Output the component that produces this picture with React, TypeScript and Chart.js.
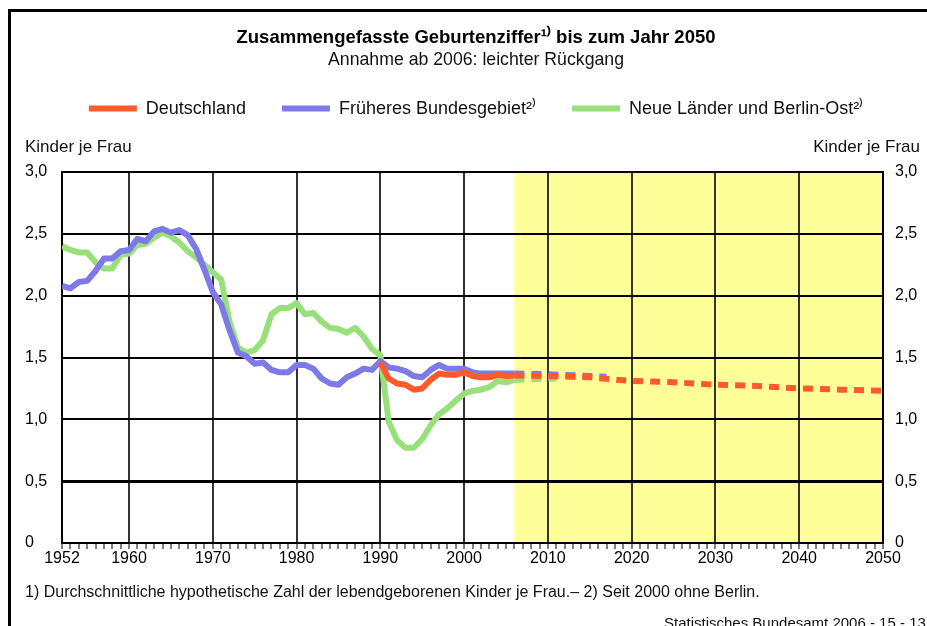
import React, { useEffect, useRef } from 'react';
import { Chart, registerables, layouts } from 'chart.js';

Chart.register(...registerables);

const FONT = "'Liberation Sans', Arial, sans-serif";

// ---------- data ----------
const historyYears = [
  1952, 1953, 1954, 1955, 1956, 1957, 1958, 1959, 1960, 1961,
  1962, 1963, 1964, 1965, 1966, 1967, 1968, 1969, 1970, 1971,
  1972, 1973, 1974, 1975, 1976, 1977, 1978, 1979, 1980, 1981,
  1982, 1983, 1984, 1985, 1986, 1987, 1988, 1989, 1990, 1991,
  1992, 1993, 1994, 1995, 1996, 1997, 1998, 1999, 2000, 2001,
  2002, 2003, 2004, 2005,
];

const bundesgebietValues = [
  2.08, 2.06, 2.11, 2.12, 2.2, 2.3, 2.3, 2.36, 2.37, 2.46,
  2.44, 2.52, 2.54, 2.51, 2.53, 2.49, 2.38, 2.21, 2.03, 1.93,
  1.72, 1.54, 1.51, 1.45, 1.46, 1.4, 1.38, 1.38, 1.44, 1.44,
  1.41, 1.33, 1.29, 1.28, 1.34, 1.37, 1.41, 1.4, 1.47, 1.42,
  1.41, 1.39, 1.35, 1.34, 1.4, 1.44, 1.41, 1.41, 1.41, 1.38,
  1.37, 1.37, 1.37, 1.37,
];

const neueLaenderValues = [
  2.4, 2.37, 2.35, 2.35, 2.27, 2.22, 2.22, 2.33, 2.34, 2.41,
  2.42, 2.47, 2.51, 2.48, 2.43, 2.36, 2.31, 2.25, 2.19, 2.13,
  1.79, 1.58, 1.54, 1.56, 1.64, 1.85, 1.9, 1.9, 1.94, 1.85,
  1.86, 1.79, 1.74, 1.73, 1.7, 1.74, 1.67, 1.57, 1.52, 0.98,
  0.83, 0.77, 0.77, 0.84, 0.95, 1.04, 1.09, 1.15, 1.21, 1.23,
  1.24, 1.26, 1.31, 1.3,
];

const deutschlandYears = [
  1990, 1991, 1992, 1993, 1994, 1995, 1996, 1997,
  1998, 1999, 2000, 2001, 2002, 2003, 2004, 2005,
];
const deutschlandValues = [
  1.46, 1.33, 1.29, 1.28, 1.24, 1.25, 1.32, 1.37,
  1.36, 1.36, 1.38, 1.35, 1.34, 1.34, 1.36, 1.35,
];

// Projection (assumption from 2006: slight decline)
const forecastStart = 2006;
const deutschlandProjYears = [2006, 2010, 2015, 2020, 2025, 2030, 2035, 2040, 2045, 2050];
const deutschlandProjValues = [1.355, 1.35, 1.34, 1.31, 1.3, 1.28, 1.27, 1.25, 1.24, 1.23];
const bundesgebietProjYears = [2006, 2010, 2017];
const bundesgebietProjValues = [1.37, 1.365, 1.345];
const neueLaenderProjYears = [2006, 2011];
const neueLaenderProjValues = [1.32, 1.33];

const seriesNames = [
  'Deutschland',
  'Früheres Bundesgebiet²⁾',
  'Neue Länder und Berlin-Ost²⁾',
];
const seriesColors = ['#FF5A2A', '#7D79E8', '#98E07A'];

const xTickLabels = [1952, 1960, 1970, 1980, 1990, 2000, 2010, 2020, 2030, 2040, 2050];
const xDecadeLines = [1960, 1970, 1980, 1990, 2000, 2010, 2020, 2030, 2040];
const yTickValues = [0, 0.5, 1, 1.5, 2, 2.5, 3];
const yTickLabels = ['0', '0,5', '1,0', '1,5', '2,0', '2,5', '3,0'];

const titleText = 'Zusammengefasste Geburtenziffer¹⁾ bis zum Jahr 2050';
const subtitleText = 'Annahme ab 2006: leichter Rückgang';
const axisTitle = 'Kinder je Frau';
const footnoteText =
  '1) Durchschnittliche hypothetische Zahl der lebendgeborenen Kinder je Frau.– 2) Seit 2000 ohne Berlin.';
const sourceText = 'Statistisches Bundesamt 2006 - 15 - 1317';

// ---------- helpers ----------
const toPoints = (xs: number[], ys: number[]) => xs.map((x, i) => ({ x, y: ys[i] }));

const xMin = 1952;
const xMax = 2050;
const everyYear = Array.from({ length: xMax - xMin + 1 }, (_, i) => xMin + i);

const gapPlugin = {
  id: 'axisTitleGap',
  start(chart: any) {
    const box: any = {
      position: 'top',
      weight: 100,
      fullSize: true,
      options: { display: true },
      left: 0, top: 0, right: 0, bottom: 0, width: 0, height: 0,
      isHorizontal() { return true; },
      update(maxWidth: number) {
        this.width = maxWidth;
        this.height = 44.5;
      },
      draw() {},
    };
    layouts.addBox(chart, box);
  },
};

const backgroundPlugin = {
  id: 'forecastBackground',
  beforeDraw(chart: any) {
    const { ctx, chartArea, scales } = chart;
    ctx.save();
    ctx.fillStyle = '#ffffff';
    ctx.fillRect(0, 0, chart.width, chart.height);
    const x0 = scales.x.getPixelForValue(forecastStart);
    ctx.fillStyle = '#FFFF99';
    ctx.fillRect(x0, chartArea.top, chartArea.right - x0, chartArea.bottom - chartArea.top);
    ctx.restore();
  },
};

const decorPlugin = {
  id: 'decor',
  afterDraw(chart: any) {
    const { ctx, chartArea, scales } = chart;
    ctx.save();
    ctx.fillStyle = '#000';
    // frame
    ctx.fillRect(8, 9, chart.width - 8, 3);
    ctx.fillRect(8, 9, 3, chart.height - 9);
    // axis titles
    ctx.font = `17px ${FONT}`;
    ctx.textBaseline = 'middle';
    ctx.fillStyle = '#111';
    ctx.textAlign = 'left';
    ctx.fillText(axisTitle, scales.y.left, chartArea.top - 25);
    ctx.textAlign = 'right';
    ctx.fillText(axisTitle, chart.width - 7, chartArea.top - 25);
    // footnote
    ctx.textAlign = 'left';
    ctx.font = `16px ${FONT}`;
    ctx.fillText(footnoteText, 25, chartArea.bottom + 50);
    // source
    ctx.font = `15px ${FONT}`;
    ctx.fillText(sourceText, 664, chartArea.bottom + 81);
    ctx.restore();
  },
};

const tickFont = { family: FONT, size: 16 };

export default function App() {
  const canvasRef = useRef<HTMLCanvasElement | null>(null);

  useEffect(() => {
    if (!canvasRef.current) return;
    const dash = (ctx: any) => (ctx.p0.parsed.x >= forecastStart ? [10, 7] : undefined);
    const makeDataset = (i: number, points: { x: number; y: number }[]) => ({
      label: seriesNames[i],
      data: points,
      borderColor: seriesColors[i],
      backgroundColor: seriesColors[i],
      borderWidth: 6,
      pointRadius: 0,
      tension: 0,
      fill: false,
      borderJoinStyle: 'round' as const,
      segment: { borderDash: dash },
    });

    const chart = new Chart(canvasRef.current, {
      type: 'line',
      data: {
        datasets: [
          makeDataset(0, [
            ...toPoints(deutschlandYears, deutschlandValues),
            ...toPoints(deutschlandProjYears, deutschlandProjValues),
          ]),
          makeDataset(1, [
            ...toPoints(historyYears, bundesgebietValues),
            ...toPoints(bundesgebietProjYears, bundesgebietProjValues),
          ]),
          makeDataset(2, [
            ...toPoints(historyYears, neueLaenderValues),
            ...toPoints(neueLaenderProjYears, neueLaenderProjValues),
          ]),
        ],
      },
      options: {
        responsive: false,
        animation: false,
        events: [],
        parsing: false,
        layout: { padding: { left: 25, right: 0, top: 0, bottom: 53 } },
        scales: {
          x: {
            type: 'linear',
            min: xMin,
            max: xMax,
            afterBuildTicks: (s: any) => {
              s.ticks = everyYear.map((v) => ({ value: v }));
            },
            afterFit: (s: any) => {
              s.height = 30;
            },
            grid: {
              color: (c: any) => (c.tick && xDecadeLines.includes(c.tick.value) ? '#333' : 'rgba(0,0,0,0)'),
              lineWidth: 2,
              tickColor: '#000',
              tickWidth: 1,
              tickLength: 6,
            },
            border: { display: true, color: '#000', width: 2 },
            ticks: {
              autoSkip: false,
              maxRotation: 0,
              padding: 0,
              font: tickFont,
              color: '#000',
              callback: (v: any) => (xTickLabels.includes(v) ? String(v) : ''),
            },
          },
          y: {
            type: 'linear',
            position: 'left',
            min: 0,
            max: 3,
            afterBuildTicks: (s: any) => {
              s.ticks = yTickValues.map((v) => ({ value: v }));
            },
            afterFit: (s: any) => {
              s.width = 37;
            },
            grid: {
              color: '#000',
              lineWidth: (c: any) => (c.tick && c.tick.value === 0.5 ? 3 : 2),
              drawTicks: false,
            },
            border: { display: true, color: '#000', width: 2 },
            ticks: {
              crossAlign: 'far',
              padding: 10,
              font: tickFont,
              color: '#000',
              callback: (_v: any, i: number) => yTickLabels[i],
            },
          },
          y2: {
            type: 'linear',
            position: 'right',
            min: 0,
            max: 3,
            afterBuildTicks: (s: any) => {
              s.ticks = yTickValues.map((v) => ({ value: v }));
            },
            afterFit: (s: any) => {
              s.width = 44;
            },
            grid: { display: false, drawTicks: false },
            border: { display: true, color: '#000', width: 2 },
            ticks: {
              padding: 12,
              font: tickFont,
              color: '#000',
              callback: (_v: any, i: number) => yTickLabels[i],
            },
          },
        },
        plugins: {
          tooltip: { enabled: false },
          title: {
            display: true,
            text: titleText,
            color: '#000',
            font: { family: FONT, size: 18.5, weight: 'bold' },
            padding: { top: 27, bottom: 0 },
          },
          subtitle: {
            display: true,
            text: subtitleText,
            color: '#111',
            font: { family: FONT, size: 17.7 },
            padding: { top: 0, bottom: -6.9 },
          },
          legend: {
            display: true,
            position: 'top',
            labels: {
              color: '#111',
              font: { family: FONT, size: 18 },
              boxWidth: 48,
              boxHeight: 6,
              padding: 36,
              generateLabels: (c: any) =>
                (Chart.defaults.plugins.legend.labels.generateLabels as any)(c).map((it: any) => ({
                  ...it,
                  lineWidth: 0,
                  lineDash: [],
                  fillStyle: it.strokeStyle,
                })),
            },
          },
        },
      } as any,
      plugins: [gapPlugin, backgroundPlugin, decorPlugin],
    });
    return () => chart.destroy();
  }, []);

  return (
    <div style={{ position: 'absolute', left: 0, top: 0, width: 927, height: 626, background: '#fff' }}>
      <canvas ref={canvasRef} width={927} height={626} />
    </div>
  );
}
